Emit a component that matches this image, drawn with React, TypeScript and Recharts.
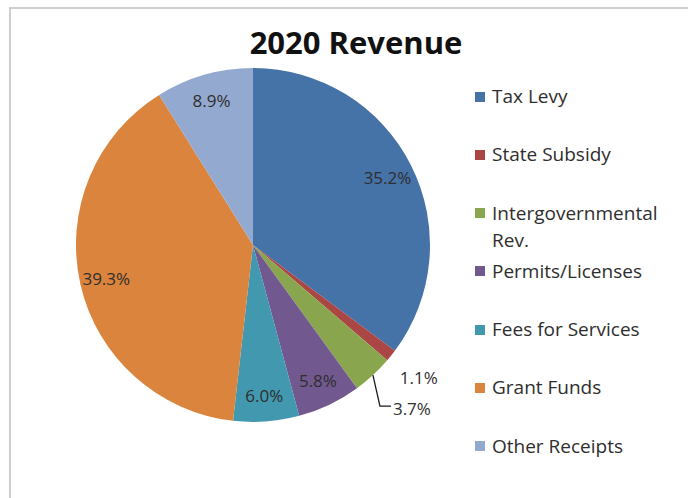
import { PieChart, Pie, Cell, Legend } from "recharts";

const CATEGORIES = [
  "Tax Levy",
  "State Subsidy",
  "Intergovernmental Rev.",
  "Permits/Licenses",
  "Fees for Services",
  "Grant Funds",
  "Other Receipts",
];

// share of 2020 revenue, percent
const SHARES = [35.2, 1.1, 3.7, 5.8, 6.0, 39.3, 8.9];

const COLORS = [
  "#4572A7",
  "#AA4643",
  "#89A54E",
  "#71588F",
  "#4198AF",
  "#DB843D",
  "#93A9CF",
];

const data = CATEGORIES.map((name, i) => ({
  name,
  value: SHARES[i],
  fill: COLORS[i],
}));

const FONT = "'Open Sans', 'Noto Sans', sans-serif";
const RAD = Math.PI / 180;

function polar(cx: number, cy: number, r: number, angle: number) {
  return {
    x: cx + r * Math.cos(-angle * RAD),
    y: cy + r * Math.sin(-angle * RAD),
  };
}

function SliceLabel(props: any) {
  const { cx, cy, midAngle, outerRadius, percent, value } = props;
  const text = `${Number(value).toFixed(1)}%`;
  const style = { fontFamily: FONT, fontSize: 17, fill: "#2e2e2e" };

  // tiny slice: label just outside
  if (percent < 0.02) {
    const p = polar(cx, cy, outerRadius * 1.2, midAngle);
    return (
      <text x={p.x} y={p.y} textAnchor="middle" dominantBaseline="central" style={style}>
        {text}
      </text>
    );
  }

  // small slice: label pulled down with a leader line
  if (percent < 0.05) {
    const e = polar(cx, cy, outerRadius, midAngle);
    const bend = { x: e.x + 7, y: e.y + 31 };
    const end = { x: bend.x + 11, y: bend.y };
    return (
      <g>
        <polyline
          points={`${e.x},${e.y} ${bend.x},${bend.y} ${end.x},${end.y}`}
          fill="none"
          stroke="#1a1a1a"
          strokeWidth={1.3}
        />
        <text x={end.x + 2} y={end.y + 2} textAnchor="start" dominantBaseline="central" style={style}>
          {text}
        </text>
      </g>
    );
  }

  const p = polar(cx, cy, outerRadius * 0.85, midAngle);
  return (
    <text x={p.x} y={p.y} textAnchor="middle" dominantBaseline="central" style={style}>
      {text}
    </text>
  );
}

function RevenueLegend({ payload }: any) {
  const items = [...(payload || [])].sort(
    (a: any, b: any) => CATEGORIES.indexOf(a.value) - CATEGORIES.indexOf(b.value)
  );
  return (
    <div style={{ fontFamily: FONT, fontSize: 19, color: "#2e2e2e" }}>
      {items.map((entry: any) => {
        const i = CATEGORIES.indexOf(entry.value);
        return (
          <div key={entry.value} style={{ display: "flex", alignItems: "flex-start", height: 58.3 }}>
            <span
              style={{
                display: "inline-block",
                width: 10,
                height: 10,
                marginTop: 8.5,
                marginRight: 7,
                flexShrink: 0,
                background: COLORS[i] ?? entry.color,
              }}
            />
            <span style={{ lineHeight: "27px", width: 185 }}>{entry.value}</span>
          </div>
        );
      })}
    </div>
  );
}

export default function App() {
  return (
    <div
      style={{
        position: "fixed",
        left: 0,
        top: 0,
        width: 688,
        height: 498,
        overflow: "hidden",
        background: "#fff",
      }}
    >
      <div
        style={{
          position: "absolute",
          left: 9,
          top: 7,
          width: 720,
          height: 540,
          border: "2px solid #cfcfcf",
        }}
      />
      <div
        style={{
          position: "absolute",
          left: 0,
          top: 27,
          width: 712,
          textAlign: "center",
          fontFamily: FONT,
          fontWeight: 700,
          fontSize: 31,
          lineHeight: "30px",
          color: "#111",
        }}
      >
        2020 Revenue
      </div>
      <div style={{ position: "absolute", left: 0, top: 0 }}>
        <PieChart width={688} height={498} margin={{ top: 0, right: 0, bottom: 0, left: 0 }}>
          <Pie
            data={data}
            dataKey="value"
            nameKey="name"
            cx={253}
            cy={245}
            outerRadius={177}
            startAngle={90}
            endAngle={-270}
            stroke="none"
            label={SliceLabel}
            labelLine={false}
            isAnimationActive={false}
          >
            {data.map((d, i) => (
              <Cell key={i} fill={d.fill} />
            ))}
          </Pie>
          <Legend
            layout="vertical"
            align="right"
            verticalAlign="top"
            itemSorter={null}
            content={<RevenueLegend />}
            wrapperStyle={{ left: 475, top: 83, right: "auto", bottom: "auto", width: 210 }}
          />
        </PieChart>
      </div>
    </div>
  );
}
